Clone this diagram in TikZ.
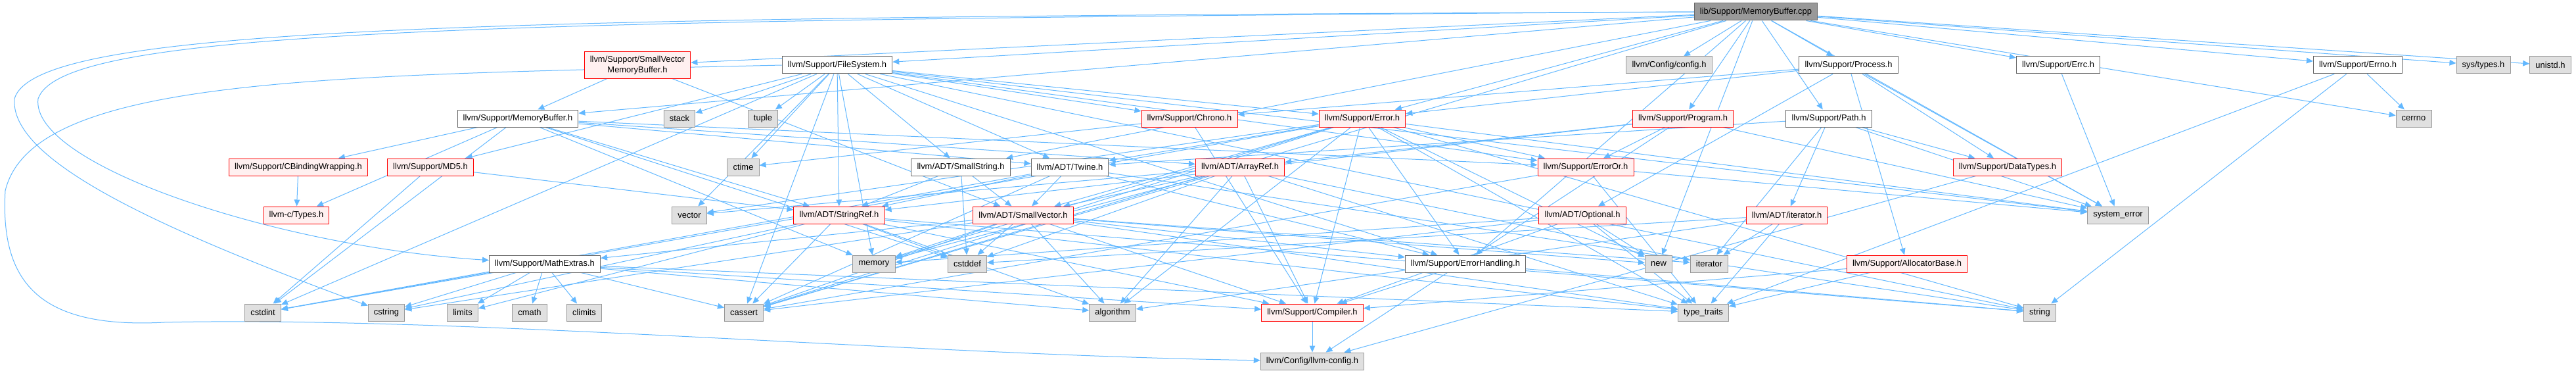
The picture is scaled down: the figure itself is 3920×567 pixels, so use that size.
\documentclass[tikz,border=0pt]{standalone}
\usepackage{fontspec}
\setmainfont{Liberation Sans}
\usetikzlibrary{arrows.meta,backgrounds}
\definecolor{edgeblue}{RGB}{99,184,255}
\definecolor{rootgray}{RGB}{153,153,153}
\definecolor{boxborder}{RGB}{102,102,102}
\definecolor{sysgray}{RGB}{224,224,224}
\definecolor{sysborder}{RGB}{153,153,153}
\definecolor{truncfill}{RGB}{255,240,240}
\tikzset{
  hdr/.style={draw=boxborder, fill=white, line width=0.75pt, minimum height=19.5pt,
              inner xsep=6.5pt, inner ysep=2pt, font=\fontsize{9.7}{12}\selectfont},
  roothdr/.style={hdr, fill=rootgray},
  trunc/.style={hdr, draw=red, fill=truncfill},
  syshdr/.style={hdr, draw=sysborder, fill=sysgray},
  dep/.style={-{Triangle[length=7.5pt,width=6.5pt]}, edgeblue, line width=0.75pt},
}

\begin{document}
\begin{tikzpicture}[x=0.75pt, y=-0.75pt]
  \useasboundingbox (0,0) rectangle (3920,567);
  % top level
  \node[roothdr] (mbcpp) at (2672,18) {lib/Support/MemoryBuffer.cpp};
  % direct includes
  \node[trunc, align=center, minimum height=30pt] (svmb) at (970,99) {llvm/Support/SmallVector\\MemoryBuffer.h};
  \node[hdr] (fsys) at (1274,99) {llvm/Support/FileSystem.h};
  \node[syshdr] (config) at (2540,99) {llvm/Config/config.h};
  \node[hdr] (process) at (2813,99) {llvm/Support/Process.h};
  \node[hdr] (errc) at (3132,99) {llvm/Support/Errc.h};
  \node[hdr] (errno) at (3588,99) {llvm/Support/Errno.h};
  \node[syshdr] (systypes) at (3779,99) {sys/types.h};
  \node[syshdr] (unistd) at (3881,99) {unistd.h};
  \node[hdr] (mbh) at (788,180) {llvm/Support/MemoryBuffer.h};
  \node[syshdr] (stack) at (1034,180) {stack};
  \node[syshdr] (tuple) at (1161,180) {tuple};
  \node[trunc] (chrono) at (1810,180) {llvm/Support/Chrono.h};
  \node[trunc] (error) at (2073,180) {llvm/Support/Error.h};
  \node[trunc] (program) at (2561,180) {llvm/Support/Program.h};
  \node[hdr] (path) at (2783,180) {llvm/Support/Path.h};
  \node[syshdr] (cerrno) at (3673,180) {cerrno};
  \node[trunc] (cbind) at (454,254) {llvm/Support/CBindingWrapping.h};
  \node[trunc] (md5) at (655,254) {llvm/Support/MD5.h};
  \node[syshdr] (ctime) at (1131,254) {ctime};
  \node[hdr] (sstring) at (1462,254) {llvm/ADT/SmallString.h};
  \node[hdr] (twine) at (1628,254) {llvm/ADT/Twine.h};
  \node[trunc] (arrayref) at (1887,254) {llvm/ADT/ArrayRef.h};
  \node[trunc] (erroror) at (2413,254) {llvm/Support/ErrorOr.h};
  \node[trunc] (datatypes) at (3055,254) {llvm/Support/DataTypes.h};
  \node[trunc] (ctypes) at (451,327) {llvm-c/Types.h};
  \node[syshdr] (vector) at (1049,327) {vector};
  \node[trunc] (stringref) at (1277,327) {llvm/ADT/StringRef.h};
  \node[trunc] (smallvec) at (1557,327) {llvm/ADT/SmallVector.h};
  \node[trunc] (optional) at (2408,327) {llvm/ADT/Optional.h};
  \node[trunc] (iterh) at (2719,327) {llvm/ADT/iterator.h};
  \node[syshdr] (syserr) at (3223,327) {system\_error};
  \node[hdr] (mathx) at (829,401) {llvm/Support/MathExtras.h};
  \node[syshdr] (memory) at (1330,401) {memory};
  \node[syshdr] (cstddef) at (1472,401) {cstddef};
  \node[hdr] (errhand) at (2230,401) {llvm/Support/ErrorHandling.h};
  \node[syshdr] (new) at (2524,401) {new};
  \node[syshdr] (iterator) at (2601,401) {iterator};
  \node[trunc] (allocb) at (2902,401) {llvm/Support/AllocatorBase.h};
  \node[syshdr] (cstdint) at (400,475) {cstdint};
  \node[syshdr] (cstring) at (588,475) {cstring};
  \node[syshdr] (limits) at (704,475) {limits};
  \node[syshdr] (cmath) at (806,475) {cmath};
  \node[syshdr] (climits) at (889,475) {climits};
  \node[syshdr] (cassert) at (1132,475) {cassert};
  \node[syshdr] (algorithm) at (1693,475) {algorithm};
  \node[trunc] (compiler) at (1997,475) {llvm/Support/Compiler.h};
  \node[syshdr] (typetraits) at (2592,475) {type\_traits};
  \node[syshdr] (string) at (3104,475) {string};
  \node[syshdr] (llvmcfg) at (1997,549) {llvm/Config/llvm-config.h};

  % include edges
  \begin{scope}[on background layer]
    % the long ones round the left side
    \draw[dep] (mbcpp.west) .. controls (700,26) and (55,40) .. (22,150)
      .. controls (15,240) and (220,340) .. (cstring);
    \draw[dep] (mbcpp.west) .. controls (700,30) and (95,45) .. (58,150)
      .. controls (45,250) and (420,375) .. (mathx);
    \draw[dep] (fsys.west) .. controls (500,115) and (50,115) .. (8,290)
      .. controls (0,430) and (60,500) .. (250,490) .. controls (700,480) and (1400,540) .. (llvmcfg);
    \path[dep] (mbcpp) edge (svmb) edge (fsys) edge (mbh) edge (config) edge (process)
      edge (program) edge (path) edge (errc) edge (errno) edge (systypes) edge (unistd)
      edge (cerrno) edge (syserr) edge (sstring) edge (error) edge (errhand)
      edge (cassert) edge (new);
    \path[dep] (svmb) edge (mbh) edge (smallvec);
    \path[dep] (fsys) edge (stack) edge (tuple) edge (chrono) edge (sstring) edge (twine)
      edge (stringref) edge (error) edge (errhand) edge (erroror) edge (md5) edge (cassert)
      edge (cstdint) edge (ctime) edge (memory) edge (string) edge (syserr) edge (vector);
    \path[dep] (mbh) edge (ctypes) edge (cbind) edge (arrayref) edge (stringref) edge (twine)
      edge (erroror) edge (cstddef) edge (cstdint) edge (memory);
    \path[dep] (process) edge (chrono) edge (error) edge (optional) edge (datatypes)
      edge (allocb) edge (syserr);
    \path[dep] (program) edge (arrayref) edge (stringref) edge (erroror) edge (llvmcfg)
      edge (syserr);
    \path[dep] (path) edge (twine) edge (iterh) edge (datatypes) edge (iterator) edge (syserr);
    \path[dep] (errc) edge (syserr);
    \path[dep] (errno) edge (cerrno) edge (string) edge (typetraits);
    \path[dep] (chrono) edge (ctime) edge (compiler);
    \path[dep] (error) edge (twine) edge (smallvec) edge (compiler) edge (errhand)
      edge (erroror) edge (algorithm) edge (cassert) edge (cstdint) edge (memory) edge (new)
      edge (string) edge (syserr) edge (typetraits) edge (vector);
    \path[dep] (cbind) edge (ctypes);
    \path[dep] (md5) edge (cstdint) edge (stringref);
    \path[dep] (sstring) edge (smallvec) edge (stringref) edge (cstddef);
    \path[dep] (twine) edge (smallvec) edge (stringref) edge (errhand) edge (cassert)
      edge (cstdint) edge (string);
    \path[dep] (arrayref) edge (smallvec) edge (compiler) edge (algorithm) edge (cassert)
      edge (cstddef) edge (iterator) edge (memory) edge (typetraits) edge (vector);
    \path[dep] (erroror) edge (syserr) edge (cassert) edge (typetraits);
    \path[dep] (datatypes) edge (llvmcfg);
    \path[dep] (stringref) edge (compiler) edge (algorithm) edge (cassert) edge (cstddef)
      edge (cstring) edge (limits) edge (string) edge (typetraits);
    \path[dep] (smallvec) edge (compiler) edge (mathx) edge (errhand) edge (algorithm)
      edge (cassert) edge (cstddef) edge (cstring) edge (iterator) edge (memory) edge (new)
      edge (typetraits);
    \path[dep] (optional) edge (compiler) edge (typetraits) edge (cassert) edge (memory)
      edge (new);
    \path[dep] (iterh) edge (algorithm) edge (cstddef) edge (iterator) edge (typetraits);
    \path[dep] (mathx) edge (compiler) edge (algorithm) edge (cassert) edge (climits)
      edge (cmath) edge (cstdint) edge (cstring) edge (limits) edge (typetraits);
    \path[dep] (errhand) edge (compiler) edge (string);
    \path[dep] (allocb) edge (compiler) edge (typetraits);
    \path[dep] (compiler) edge (llvmcfg);
  \end{scope}
\end{tikzpicture}
\end{document}
